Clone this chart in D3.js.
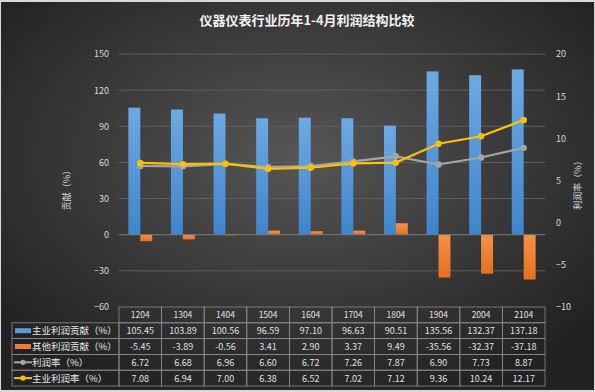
<!DOCTYPE html>
<html>
<head>
<meta charset="utf-8">
<script src="https://cdn.jsdelivr.net/npm/d3@7"></script>
<style>
  body { margin: 0; background: #d9d9d9; }
  text { font-family: "Noto Sans CJK SC", "Noto Sans", sans-serif; }
</style>
</head>
<body>
<div id="chart"></div>
<script>
// data
var years = ["1204", "1304", "1404", "1504", "1604", "1704", "1804", "1904", "2004", "2104"];
var mainContrib = [105.45, 103.89, 100.56, 96.59, 97.10, 96.63, 90.51, 135.56, 132.37, 137.18];
var otherContrib = [-5.45, -3.89, -0.56, 3.41, 2.90, 3.37, 9.49, -35.56, -32.37, -37.18];
var profitRate = [6.72, 6.68, 6.96, 6.60, 6.72, 7.26, 7.87, 6.90, 7.73, 8.87];
var mainProfitRate = [7.08, 6.94, 7.00, 6.38, 6.52, 7.02, 7.12, 9.36, 10.24, 12.17];
var leftTicks = [-60, -30, 0, 30, 60, 90, 120, 150];
var rightTicks = [-10, -5, 0, 5, 10, 15, 20];
var seriesNames = ["主业利润贡献（%）", "其他利润贡献（%）", "利润率（%）", "主业利润率（%）"];

var svgWidth = 595, svgHeight = 392;
var plot = { left: 119, right: 545, top: 54, bottom: 307 };

var svg = d3.select("#chart").append("svg")
    .attr("width", svgWidth).attr("height", svgHeight);

// background
var defs = svg.append("defs");
var bg = defs.append("radialGradient").attr("id", "bg")
    .attr("cx", "50%").attr("cy", "40%").attr("r", "65%");
bg.append("stop").attr("offset", "0%").attr("stop-color", "#565656");
bg.append("stop").attr("offset", "100%").attr("stop-color", "#222222");

var gBlue = defs.append("linearGradient").attr("id", "gBlue").attr("x1", 0).attr("y1", 0).attr("x2", 0).attr("y2", 1);
gBlue.append("stop").attr("offset", "0%").attr("stop-color", "#6ea9e2");
gBlue.append("stop").attr("offset", "100%").attr("stop-color", "#3f85cc");
var gOrange = defs.append("linearGradient").attr("id", "gOrange").attr("x1", 0).attr("y1", 0).attr("x2", 0).attr("y2", 1);
gOrange.append("stop").attr("offset", "0%").attr("stop-color", "#f4914a");
gOrange.append("stop").attr("offset", "100%").attr("stop-color", "#e5701f");

svg.append("rect").attr("x", 1).attr("y", 2).attr("width", svgWidth - 2).attr("height", svgHeight - 4)
    .attr("fill", "url(#bg)");

// title
svg.append("text")
    .attr("x", 307).attr("y", 25)
    .attr("text-anchor", "middle")
    .attr("font-size", "13px").attr("font-weight", "bold")
    .attr("fill", "#f2f2f2")
    .text("仪器仪表行业历年1-4月利润结构比较");

// scales
var xScale = d3.scaleBand().domain(years).range([plot.left, plot.right]).padding(0);
var yLeft = d3.scaleLinear().domain([-60, 150]).range([plot.bottom, plot.top]);
var yRight = d3.scaleLinear().domain([-10, 20]).range([plot.bottom, plot.top]);
var barW = xScale.bandwidth() * 0.28;
var cx = d => xScale(d) + xScale.bandwidth() / 2;

// gridlines
svg.append("g").selectAll("line").data(leftTicks.filter(t => t > -60 && t !== 0)).enter()
    .append("line")
    .attr("x1", plot.left).attr("x2", plot.right)
    .attr("y1", d => yLeft(d)).attr("y2", d => yLeft(d))
    .attr("stroke", "#5e5e5e").attr("stroke-width", 1);

// left axis
var leftAxis = d3.axisLeft(yLeft).tickValues(leftTicks).tickSize(0).tickPadding(0);
var gl = svg.append("g").attr("transform", `translate(${plot.left - 10},0)`).call(leftAxis);
gl.select(".domain").remove();
gl.selectAll("text").attr("font-size", "9px").attr("fill", "#d9d9d9");

// right axis
var rightAxis = d3.axisRight(yRight).tickValues(rightTicks).tickSize(0).tickPadding(0);
var gr = svg.append("g").attr("transform", `translate(${plot.right + 11},0)`).call(rightAxis);
gr.select(".domain").remove();
gr.selectAll("text").attr("font-size", "9px").attr("fill", "#d9d9d9");

// axis titles
svg.append("text")
    .attr("transform", "translate(70,188) rotate(-90)")
    .attr("text-anchor", "middle").attr("font-size", "9px").attr("fill", "#d9d9d9")
    .text("贡献（%）");
svg.append("text")
    .attr("transform", "translate(581,183) rotate(-90)")
    .attr("text-anchor", "middle").attr("font-size", "9px").attr("fill", "#d9d9d9")
    .text("利润率（%）");

// bars
svg.append("g").selectAll("rect").data(years).enter()
    .append("rect")
    .attr("x", (d, i) => cx(d) - barW)
    .attr("y", (d, i) => yLeft(Math.max(0, mainContrib[i])))
    .attr("width", barW)
    .attr("height", (d, i) => Math.abs(yLeft(mainContrib[i]) - yLeft(0)))
    .attr("fill", "url(#gBlue)");

svg.append("g").selectAll("rect").data(years).enter()
    .append("rect")
    .attr("x", d => cx(d))
    .attr("y", (d, i) => yLeft(Math.max(0, otherContrib[i])))
    .attr("width", barW)
    .attr("height", (d, i) => Math.abs(yLeft(otherContrib[i]) - yLeft(0)))
    .attr("fill", "url(#gOrange)");

// zero line
svg.append("line")
    .attr("x1", plot.left).attr("x2", plot.right)
    .attr("y1", yLeft(0)).attr("y2", yLeft(0))
    .attr("stroke", "#7a7a7a").attr("stroke-width", 1);

// lines
function drawLine(values, color) {
    var line = d3.line().x((d, i) => cx(years[i])).y(d => yRight(d));
    svg.append("path").datum(values)
        .attr("d", line)
        .attr("fill", "none").attr("stroke", color).attr("stroke-width", 2.2);
    svg.append("g").selectAll("circle").data(values).enter()
        .append("circle")
        .attr("cx", (d, i) => cx(years[i]))
        .attr("cy", d => yRight(d))
        .attr("r", 3.2)
        .attr("fill", color);
}
drawLine(profitRate, "#a5a5a5");
drawLine(mainProfitRate, "#ffc000");

// data table
var rowH = 15.8;
var tableTop = plot.bottom;
var legendLeft = 12;
var table = svg.append("g");
var tableRows = [mainContrib, otherContrib, profitRate, mainProfitRate];
var lineColor = "#8a8a8a";

// header row
years.forEach(function(y) {
    table.append("rect")
        .attr("x", xScale(y)).attr("y", tableTop)
        .attr("width", xScale.bandwidth()).attr("height", rowH)
        .attr("fill", "none").attr("stroke", lineColor).attr("stroke-width", 0.8);
    table.append("text")
        .attr("x", cx(y)).attr("y", tableTop + rowH / 2 + 3)
        .attr("text-anchor", "middle").attr("font-size", "8.5px").attr("fill", "#e0e0e0")
        .text(y);
});

tableRows.forEach(function(vals, r) {
    var ry = tableTop + rowH * (r + 1);
    table.append("rect")
        .attr("x", legendLeft).attr("y", ry)
        .attr("width", plot.left - legendLeft).attr("height", rowH)
        .attr("fill", "none").attr("stroke", lineColor).attr("stroke-width", 0.8);
    vals.forEach(function(v, i) {
        table.append("rect")
            .attr("x", xScale(years[i])).attr("y", ry)
            .attr("width", xScale.bandwidth()).attr("height", rowH)
            .attr("fill", "none").attr("stroke", lineColor).attr("stroke-width", 0.8);
        table.append("text")
            .attr("x", cx(years[i])).attr("y", ry + rowH / 2 + 3.5)
            .attr("text-anchor", "middle").attr("font-size", "9px").attr("fill", "#e0e0e0")
            .text(v.toFixed(2));
    });
    // legend key
    var ky = ry + rowH / 2;
    if (r === 0 || r === 1) {
        table.append("rect")
            .attr("x", 15).attr("y", ky - 2.5).attr("width", 16).attr("height", 5)
            .attr("fill", r === 0 ? "#5b9bd5" : "#ed7d31");
    } else {
        var c = r === 2 ? "#a5a5a5" : "#ffc000";
        table.append("line")
            .attr("x1", 14).attr("x2", 32).attr("y1", ky).attr("y2", ky)
            .attr("stroke", c).attr("stroke-width", 2);
        table.append("circle").attr("cx", 23).attr("cy", ky).attr("r", 2.6).attr("fill", c);
    }
    table.append("text")
        .attr("x", 32).attr("y", ky + 3.5)
        .attr("font-size", "9.5px").attr("fill", "#e6e6e6")
        .text(seriesNames[r]);
});
</script>
</body>
</html>
